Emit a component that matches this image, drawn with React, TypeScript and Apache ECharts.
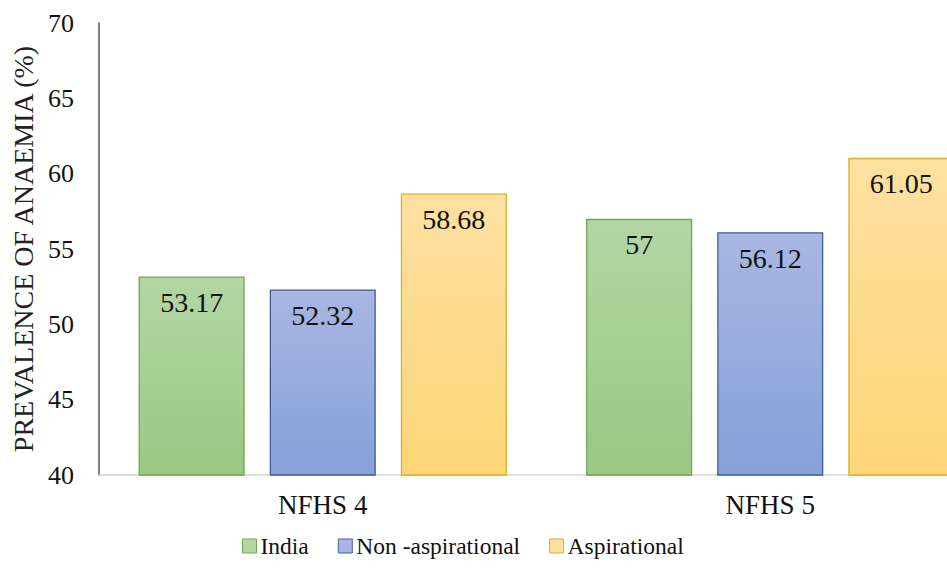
import React, { useEffect, useRef } from "react";
import * as echarts from "echarts";

const categories = ["NFHS 4", "NFHS 5"];
const seriesNames = ["India", "Non -aspirational", "Aspirational"];
const indiaValues = [53.17, 57];
const nonAspValues = [52.32, 56.12];
const aspValues = [58.68, 61.05];
const yTicks = [40, 45, 50, 55, 60, 65, 70];

const fills = [
  ["#b3d6a4", "#9bc884", "#71a552"],
  ["#a8b7e2", "#87a0d8", "#3f5c9c"],
  ["#fde0a2", "#fed678", "#d8b028"],
];

const FONT = "'Liberation Serif', 'Times New Roman', serif";

export default function App() {
  const ref = useRef<HTMLDivElement>(null);
  useEffect(() => {
    if (!ref.current) return;
    const chart = echarts.init(ref.current, undefined, { renderer: "svg" });
    const dataSets = [indiaValues, nonAspValues, aspValues];
    const series = seriesNames.map((name, i) => ({
      name,
      type: "bar",
      data: dataSets[i],
      barGap: "23.6%",
      barCategoryGap: "17.7%",
      itemStyle: {
        color: new echarts.graphic.LinearGradient(0, 0, 0, 1, [
          { offset: 0, color: fills[i][0] },
          { offset: 1, color: fills[i][1] },
        ]),
        borderColor: fills[i][2],
        borderWidth: 1.3,
      },
      label: {
        show: true,
        position: "insideTop",
        distance: 12,
        fontFamily: FONT,
        fontSize: 28,
        color: "#111",
        formatter: (p: any) => String(p.value),
      },
    }));
    chart.setOption({
      animation: false,
      backgroundColor: "#ffffff",
      textStyle: { fontFamily: FONT },
      grid: { left: 99, width: 895, top: 23, height: 452, containLabel: false, outerBoundsMode: "none" },
      legend: {
        data: seriesNames.map((n, i) => ({
          name: n,
          itemStyle: { color: fills[i][0], borderColor: fills[i][2], borderWidth: 1 },
        })),
        bottom: 12,
        left: 237,
        itemWidth: 14,
        itemHeight: 14,
        itemGap: 29,
        icon: "rect",
        textStyle: { fontFamily: FONT, fontSize: 23.5, color: "#111", padding: [0, 0, 0, -1] },
      },
      xAxis: {
        type: "category",
        data: categories,
        axisLine: { show: true, lineStyle: { color: "#d4d4d4", width: 1.5 } },
        axisTick: { show: false },
        axisLabel: { fontFamily: FONT, fontSize: 27, color: "#111", margin: 16 },
      },
      yAxis: {
        type: "value",
        min: 40,
        max: 70,
        interval: 5,
        name: "PREVALENCE OF ANAEMIA (%)",
        nameLocation: "middle",
        nameGap: 60,
        nameRotate: 90,
        nameTextStyle: { fontFamily: FONT, fontSize: 28, color: "#222" },
        axisLine: { show: true, lineStyle: { color: "#555", width: 1.5 } },
        axisTick: { show: false },
        splitLine: { show: false },
        axisLabel: {
          fontFamily: FONT,
          fontSize: 26,
          color: "#111",
          margin: 25,
          formatter: (v: number) => (yTicks.includes(v) ? String(v) : ""),
        },
      },
      series,
    });
    return () => chart.dispose();
  }, []);
  return <div ref={ref} style={{ width: 947, height: 575, position: "absolute", left: 0, top: 0 }} />;
}
